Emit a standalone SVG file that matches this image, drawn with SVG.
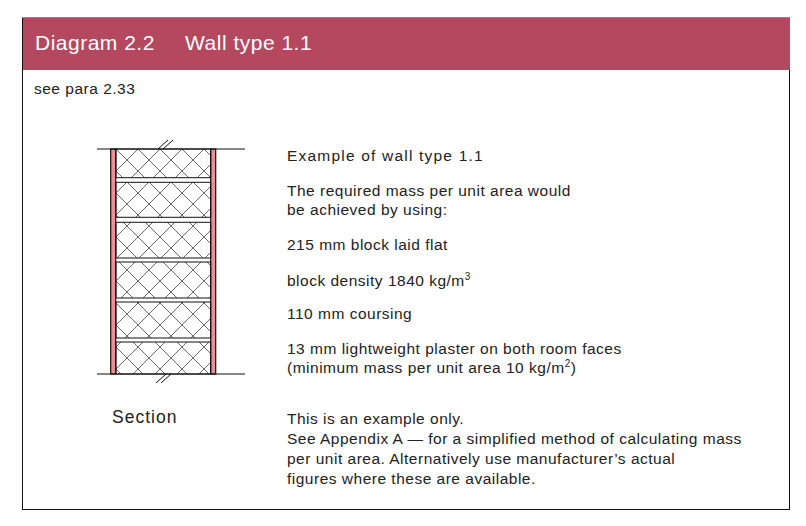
<svg xmlns="http://www.w3.org/2000/svg" width="806" height="526" viewBox="0 0 806 526">
<defs>
<pattern id="hatch" width="22" height="22" patternUnits="userSpaceOnUse" x="116" y="149">
<path d="M0,0 L22,22 M22,0 L0,22" stroke="#444" stroke-width="0.8" fill="none"/>
</pattern>
<style>
.t{font-family:"Liberation Sans",Arial,sans-serif;font-size:15.5px;fill:#222;letter-spacing:0.5px}
.blk{fill:url(#hatch);stroke:#111;stroke-width:1}
.pl{fill:#ee8f96;stroke:#111;stroke-width:1.2}
</style>
</defs>
<rect x="22.5" y="18" width="767" height="491.5" fill="#fff" stroke="#111" stroke-width="1"/>
<rect x="23" y="18" width="767" height="52" fill="#b4485f"/>
<g font-family="'Liberation Sans',Arial,sans-serif" font-size="21" fill="#fff" letter-spacing="0.5">
<text x="35" y="50">Diagram 2.2</text>
<text x="185" y="50">Wall type 1.1</text>
</g>
<text class="t" x="34" y="94">see para 2.33</text>
<g id="wall">
<rect class="pl" x="110.7" y="149" width="5" height="225"/>
<rect class="pl" x="210.7" y="149" width="5" height="225"/>
<rect class="blk" x="116" y="149" width="94.7" height="28.7"/>
<rect class="blk" x="116" y="182.3" width="94.7" height="35"/>
<rect class="blk" x="116" y="222.3" width="94.7" height="35.7"/>
<rect class="blk" x="116" y="262" width="94.7" height="36"/>
<rect class="blk" x="116" y="302" width="94.7" height="36"/>
<rect class="blk" x="116" y="342" width="94.7" height="32"/>
<line x1="97" y1="149" x2="245" y2="149" stroke="#111" stroke-width="1.2"/>
<line x1="97" y1="374" x2="245" y2="374" stroke="#111" stroke-width="1.2"/>
<path d="M158,149 L168,140 M163,149 L173,140 M156,383 L166,374 M161,383 L171,374" stroke="#111" stroke-width="1" fill="none"/>
</g>
<text x="112" y="423" font-family="'Liberation Sans',Arial,sans-serif" font-size="17.5" fill="#222" letter-spacing="1">Section</text>
<g id="notes">
<text class="t" x="287" y="161" style="letter-spacing:1.2px">Example of wall type 1.1</text>
<text class="t" x="287" y="196">The required mass per unit area would</text>
<text class="t" x="287" y="215">be achieved by using:</text>
<text class="t" x="287" y="250">215 mm block laid flat</text>
<text class="t" x="287" y="286">block density 1840 kg/m<tspan font-size="10" dy="-6">3</tspan></text>
<text class="t" x="287" y="319">110 mm coursing</text>
<text class="t" x="287" y="354">13 mm lightweight plaster on both room faces</text>
<text class="t" x="287" y="373">(minimum mass per unit area 10 kg/m<tspan font-size="10" dy="-6">2</tspan><tspan dy="6">)</tspan></text>
<text class="t" x="287" y="424">This is an example only.</text>
<text class="t" x="287" y="444">See Appendix A — for a simplified method of calculating mass</text>
<text class="t" x="287" y="464">per unit area.  Alternatively use manufacturer’s actual</text>
<text class="t" x="287" y="484">figures where these are available.</text>
</g>
</svg>
